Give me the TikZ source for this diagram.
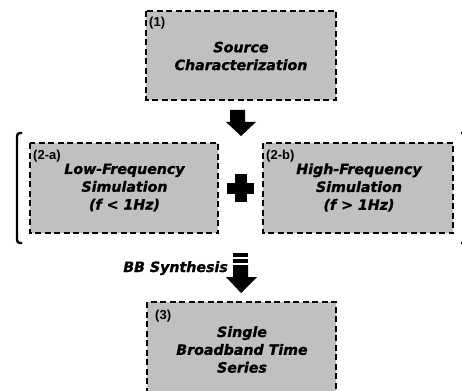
\documentclass[tikz,border=0pt]{standalone}
\usepackage{fontspec}
\setmainfont{DejaVu Sans}[BoldItalicFeatures={FakeBold=1.2}]
\newfontfamily\labfont{Liberation Sans}
\tikzset{
  stagebox/.style={draw=black, fill=boxgray, line width=1.8pt, dash pattern=on 6pt off 3.5pt},
  stagetext/.style={font=\fontsize{14.2}{17.8}\selectfont\bfseries\itshape, align=center, inner sep=0pt},
  stagelabel/.style={font=\labfont\fontsize{13}{14}\selectfont\bfseries, anchor=north west, inner sep=0pt},
  blockarrow/.style={fill=black, draw=none},
  bracketline/.style={line width=2.4pt, rounded corners=3pt}
}
\definecolor{boxgray}{RGB}{192,192,192}
\begin{document}
\begin{tikzpicture}[x=1pt,y=-1pt]
\useasboundingbox (0,0) rectangle (462,390);
\clip (0,0) rectangle (462,390);
% boxes
\draw[stagebox] (146,11) rectangle (336,100);
\node[stagetext] (b1) at (241,56) {Source\\Characterization};
\node[stagelabel] (l1) at (149,17) {(1)};

\draw[stagebox] (30,143) rectangle (218,233);
\node[stagetext] (b2a) at (124.5,187.5) {Low-Frequency\\Simulation\\(f < 1Hz)};
\node[stagelabel] (l2a) at (33,150) {(2-a)};

\draw[stagebox] (263,143) rectangle (453,233);
\node[stagetext] (b2b) at (359,187.5) {High-Frequency\\Simulation\\(f > 1Hz)};
\node[stagelabel] (l2b) at (266,150) {(2-b)};

\draw[stagebox] (147,302) rectangle (336,398);
\node[stagetext] (b3) at (242,349.5) {Single\\Broadband Time\\Series};
\node[stagelabel] (l3) at (155,310) {(3)};

% brackets
\draw[bracketline] (22,133) -- (17,133) -- (17,243) -- (22,243);
\draw[bracketline] (461,133) -- (466,133) -- (466,243) -- (461,243);

% arrow 1
\coordinate (a1) at (241,110);
\fill[blockarrow] (230,110) -- (245,110) -- (245,122) -- (256,122) -- (241,136) -- (226,122) -- (230,122) -- cycle;

% plus
\coordinate (plus) at (240.5,188);
\fill[blockarrow] (227,182.5) rectangle (254,193.5);
\fill[blockarrow] (234.5,174) rectangle (246.5,202);

% arrow 2 (equals + arrow)
\coordinate (a2) at (241,253);
\fill[blockarrow] (233,253) rectangle (248,257);
\fill[blockarrow] (233,259) rectangle (248,263);
\fill[blockarrow] (233,265) -- (248,265) -- (248,277) -- (257,277) -- (241,293) -- (226,277) -- (233,277) -- cycle;
\node[font=\fontsize{14.2}{17}\selectfont\bfseries\itshape, anchor=base east, inner sep=0pt] (bb) at (228,272) {BB Synthesis};
\end{tikzpicture}
\end{document}
